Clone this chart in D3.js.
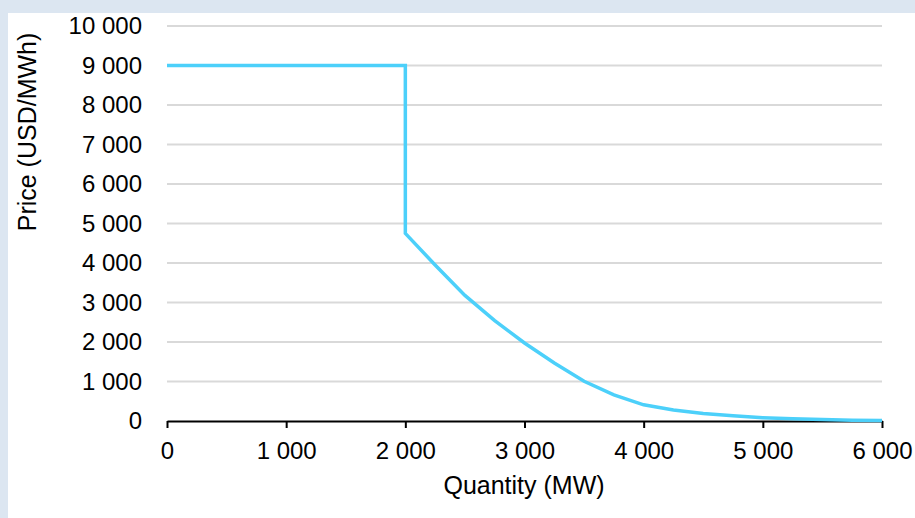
<!DOCTYPE html>
<html>
<head>
<meta charset="utf-8">
<script src="https://cdn.jsdelivr.net/npm/d3@7"></script>
<style>
  html, body { margin: 0; padding: 0; background: #dce6f1; }
  svg { display: block; }
  text { font-family: "Liberation Sans", Arial, sans-serif; fill: #000; }
</style>
</head>
<body>
<svg id="chart" width="915" height="518"></svg>
<script>
// Data
const quantityMW = [0, 2000, 2000, 2250, 2500, 2750, 3000, 3250, 3500, 3750, 4000, 4250, 4500, 4750, 5000, 5250, 5500, 5750, 6000];
const priceUSD   = [9000, 9000, 4750, 3950, 3180, 2540, 1975, 1470, 1005, 660, 410, 280, 190, 130, 85, 55, 35, 20, 10];
const xTicks = [0, 1000, 2000, 3000, 4000, 5000, 6000];
const yTicks = [0, 1000, 2000, 3000, 4000, 5000, 6000, 7000, 8000, 9000, 10000];
const xTitle = "Quantity (MW)";
const yTitle = "Price (USD/MWh)";

const svg = d3.select("#chart");
const W = 915, H = 518;

// white panel
svg.append("rect").attr("x", 8).attr("y", 13).attr("width", W - 8).attr("height", H - 13).attr("fill", "#ffffff");

const x = d3.scaleLinear().domain([0, 6000]).range([167, 882]);
const y = d3.scaleLinear().domain([0, 10000]).range([421, 26]);

const loc = d3.formatLocale({ decimal: ".", thousands: " ", grouping: [3], currency: ["", ""] });
const fmt = loc.format(",");

// gridlines
svg.append("g").selectAll("line").data(yTicks.filter(d => d > 0)).join("line")
  .attr("x1", x(0)).attr("x2", x(6000))
  .attr("y1", d => y(d)).attr("y2", d => y(d))
  .attr("stroke", "#d9d9d9").attr("stroke-width", 2);

// y tick labels
svg.append("g").selectAll("text").data(yTicks).join("text")
  .attr("x", 142).attr("y", d => y(d)).attr("dy", "0.35em")
  .attr("text-anchor", "end").attr("font-size", 24)
  .text(d => fmt(d));

// x axis
const xAxis = d3.axisBottom(x).tickValues(xTicks).tickSize(7).tickSizeOuter(0).tickFormat(d => fmt(d)).tickPadding(14);
const gx = svg.append("g").attr("transform", `translate(0,${y(0)})`).call(xAxis);
gx.select(".domain").attr("stroke", "#000").attr("stroke-width", 2);
gx.selectAll(".tick line").attr("stroke", "#000").attr("stroke-width", 2);
gx.selectAll(".tick text").attr("font-size", 24).attr("font-family", "Liberation Sans, Arial, sans-serif").attr("fill", "#000");

// line
const pts = quantityMW.map((q, i) => [q, priceUSD[i]]);
svg.append("path").datum(pts)
  .attr("d", d3.line().x(d => x(d[0])).y(d => y(d[1])))
  .attr("fill", "none").attr("stroke", "#4cd0fa").attr("stroke-width", 3.5)
  .attr("stroke-linejoin", "miter");

// titles
svg.append("text").attr("x", 524).attr("y", 494).attr("text-anchor", "middle").attr("font-size", 25).text(xTitle);
svg.append("text").attr("transform", `translate(36,132) rotate(-90)`).attr("text-anchor", "middle").attr("font-size", 25).text(yTitle);
</script>
</body>
</html>
